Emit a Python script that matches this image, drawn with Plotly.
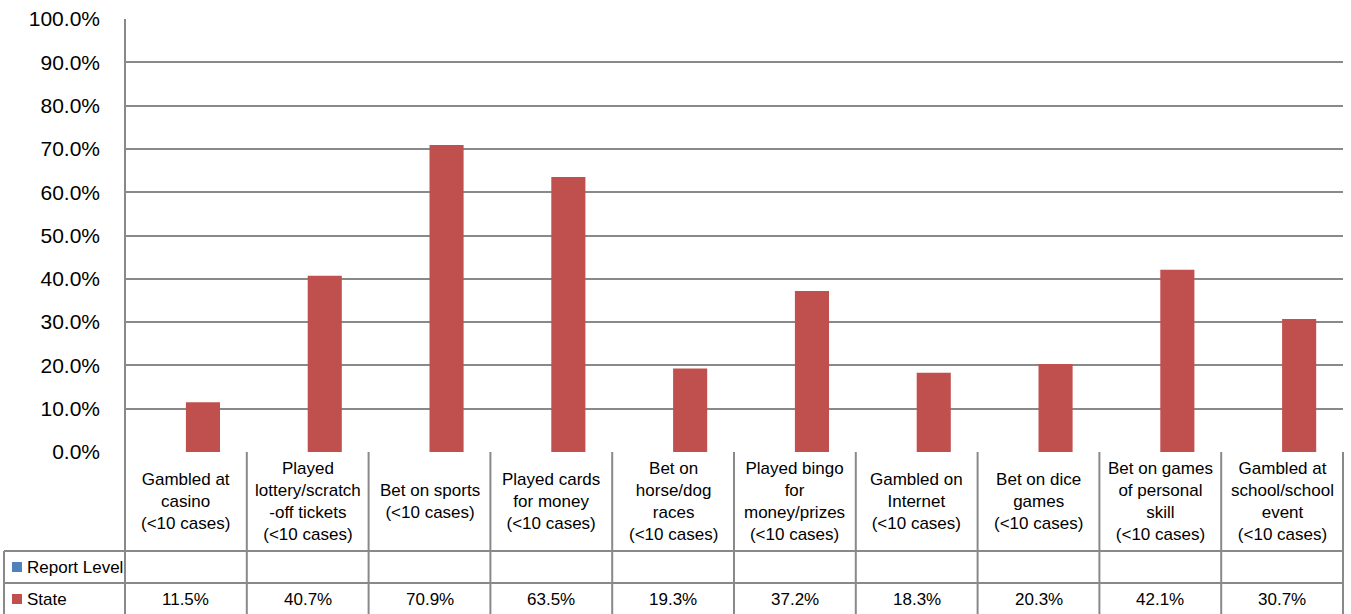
import plotly.graph_objects as go

categories = [
    "Gambled at<br>casino<br>(&lt;10 cases)",
    "Played<br>lottery/scratch<br>-off tickets<br>(&lt;10 cases)",
    "Bet on sports<br>(&lt;10 cases)",
    "Played cards<br>for money<br>(&lt;10 cases)",
    "Bet on<br>horse/dog<br>races<br>(&lt;10 cases)",
    "Played bingo<br>for<br>money/prizes<br>(&lt;10 cases)",
    "Gambled on<br>Internet<br>(&lt;10 cases)",
    "Bet on dice<br>games<br>(&lt;10 cases)",
    "Bet on games<br>of personal<br>skill<br>(&lt;10 cases)",
    "Gambled at<br>school/school<br>event<br>(&lt;10 cases)",
]
report_level = [None] * 10
state = [11.5, 40.7, 70.9, 63.5, 19.3, 37.2, 18.3, 20.3, 42.1, 30.7]
series_names = ["Report Level", "State"]
series_colors = ["#4F81BD", "#C0504D"]
y_ticks = [0, 10, 20, 30, 40, 50, 60, 70, 80, 90, 100]

FONT = "Liberation Sans Narrow, Arial Narrow, Liberation Sans, Arial, sans-serif"
GRID = "#898989"
TXT = 17

W, H = 1351, 614
L, R, T, B = 125, 8, 19, 162
PW = W - L - R
PH = H - T - B

def py(p):  # pixel y -> paper y
    return (H - B - p) / PH

def px(p):  # pixel x -> paper x
    return (p - L) / PW

xs = list(range(len(categories)))

fig = go.Figure()
for name, vals, col in zip(series_names, [report_level, state], series_colors):
    fig.add_trace(go.Bar(x=xs, y=vals, name=name, marker_color=col,
                         marker_line_width=0, showlegend=False))

shapes = []
line_style = dict(color=GRID, width=2)
n = len(categories)
for i in range(n + 1):
    xp = i / n
    shapes.append(dict(type="line", xref="paper", yref="paper", x0=xp, x1=xp,
                       y0=py(H + 2), y1=0, line=line_style))
for yy in [551, 583]:
    shapes.append(dict(type="line", xref="paper", yref="paper", x0=px(4), x1=1,
                       y0=py(yy), y1=py(yy), line=line_style))
shapes.append(dict(type="line", xref="paper", yref="paper", x0=px(4), x1=px(4),
                   y0=py(H + 2), y1=py(551), line=line_style))
shapes.append(dict(type="line", xref="paper", yref="paper", x0=0, x1=0,
                   y0=0, y1=1, line=line_style))

annotations = []
for i, c in enumerate(categories):
    annotations.append(dict(x=i, y=py(501), xref="x", yref="paper", text=c,
                            showarrow=False, xanchor="center", yanchor="middle",
                            font=dict(family=FONT, size=TXT, color="#000000")))
row_y = [567, 599]
for name, col, ry in zip(series_names, series_colors, row_y):
    shapes.append(dict(type="rect", xref="paper", yref="paper",
                       x0=px(12), x1=px(22), y0=py(ry - 5), y1=py(ry + 5),
                       fillcolor=col, line=dict(width=0)))
    annotations.append(dict(x=px(25), y=py(ry), xref="paper", yref="paper",
                            text=name, showarrow=False, xanchor="left", yanchor="middle",
                            font=dict(family=FONT, size=TXT, color="#000000")))
for ry, vals in zip(row_y, [report_level, state]):
    for i, v in enumerate(vals):
        if v is None:
            continue
        annotations.append(dict(x=i, y=py(ry), xref="x", yref="paper",
                                text=f"{v:.1f}%", showarrow=False,
                                xanchor="center", yanchor="middle",
                                font=dict(family=FONT, size=TXT, color="#000000")))

fig.update_layout(
    width=W, height=H,
    margin=dict(l=L, r=R, t=T, b=B, pad=0),
    paper_bgcolor="white", plot_bgcolor="white",
    barmode="group", bargap=0.44, bargroupgap=0,
    xaxis=dict(range=[-0.5, n - 0.5], showticklabels=False, showgrid=False,
               zeroline=False, showline=False, ticks=""),
    yaxis=dict(range=[0, 100], tickvals=y_ticks,
               ticktext=[f"{t:.1f}%" for t in y_ticks],
               showgrid=True, gridcolor=GRID, gridwidth=1.5,
               zeroline=False, showline=False, ticks="",
               ticklabelstandoff=24,
               tickfont=dict(family=FONT, size=21, color="#000000")),
    shapes=shapes, annotations=annotations,
    showlegend=False,
)

fig.write_html("out.html", config={"displayModeBar": False},
               post_script="document.body.style.margin='0';document.body.style.overflow='hidden';")
